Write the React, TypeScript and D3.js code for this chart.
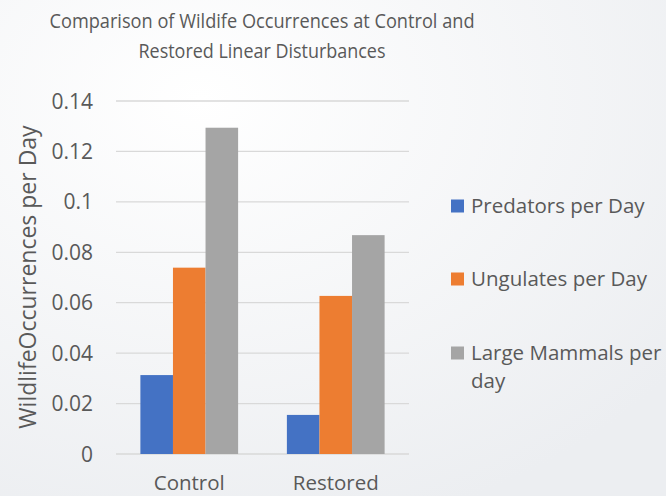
import React from "react";
import * as d3 from "d3";

const categories = ["Control", "Restored"];
const seriesNames = ["Predators per Day", "Ungulates per Day", "Large Mammals per day"];
const predators = [0.0313, 0.0155];
const ungulates = [0.0739, 0.0627];
const largeMammals = [0.1294, 0.0868];
const yTicks = [0, 0.02, 0.04, 0.06, 0.08, 0.1, 0.12, 0.14];
const titleLines = ["Comparison of Wildife Occurrences at Control and", "Restored Linear Disturbances"];
const colors = ["#4472C4", "#ED7D31", "#A5A5A5"];

const W = 666;
const H = 496;
const font = "'Open Sans', 'Noto Sans', sans-serif";
const textColor = "#595959";

const App = () => {
  const series = [predators, ungulates, largeMammals];

  const x = d3.scaleBand().domain(categories).range([116, 409]).paddingInner(0.333).paddingOuter(0.1665);
  const xInner = d3.scaleBand().domain(seriesNames).range([0, x.bandwidth()]);
  const y = d3.scaleLinear().domain([0, 0.14]).range([454, 101]);

  const legendY = [206, 279, 353];
  // reference title is Calibri-narrow, so squeeze the glyphs to its measured widths
  const titleWidths = [425, 247];

  return (
    <svg width={W} height={H} style={{ position: "absolute", left: 0, top: 0 }} fontFamily={font}>
      <defs>
        <radialGradient id="bg" cx="0.3" cy="0.2" r="0.9">
          <stop offset="0" stopColor="#ffffff" />
          <stop offset="1" stopColor="#eceef1" />
        </radialGradient>
      </defs>
      <rect width={W} height={H} fill="url(#bg)" />

      {/* title */}
      {titleLines.map((l, i) => (
        <text
          key={l}
          x={262}
          y={28 + i * 30}
          textAnchor="middle"
          fontSize={20.5}
          fill={textColor}
          textLength={titleWidths[i]}
          lengthAdjust="spacingAndGlyphs"
        >
          {l}
        </text>
      ))}

      {/* gridlines */}
      {yTicks.map((t) => (
        <line key={t} x1={116} x2={409} y1={y(t)} y2={y(t)} stroke="#d9d9d9" strokeWidth={1.3} />
      ))}

      {/* y tick labels */}
      {yTicks.map((t) => (
        <text key={t} x={93} y={y(t)} dy="0.36em" textAnchor="end" fontSize={21} fill={textColor}>
          {String(t)}
        </text>
      ))}

      {/* y axis title */}
      <text
        transform={`translate(36,277) rotate(-90)`}
        textAnchor="middle"
        fontSize={23}
        fill={textColor}
      >
        WildlifeOccurrences per Day
      </text>

      {/* bars */}
      {categories.map((c, ci) => (
        <g key={c} transform={`translate(${x(c)},0)`}>
          {series.map((s, si) => (
            <rect
              key={si}
              x={xInner(seriesNames[si])}
              width={xInner.bandwidth()}
              y={y(s[ci])}
              height={y(0) - y(s[ci])}
              fill={colors[si]}
            />
          ))}
        </g>
      ))}

      {/* x labels */}
      {categories.map((c) => (
        <text key={c} x={(x(c) || 0) + x.bandwidth() / 2} y={490} textAnchor="middle" fontSize={20.5} fill={textColor}>
          {c}
        </text>
      ))}

      {/* legend */}
      {seriesNames.map((n, i) => (
        <g key={n}>
          <rect x={451} y={legendY[i] - 6.5} width={13} height={13} fill={colors[i]} />
          {i < 2 ? (
            <text x={471} y={legendY[i] + 7} fontSize={20.5} fill={textColor}>
              {n}
            </text>
          ) : (
            <text x={471} y={legendY[i] + 7} fontSize={20.5} fill={textColor}>
              <tspan x={471}>Large Mammals per</tspan>
              <tspan x={471} dy={28}>day</tspan>
            </text>
          )}
        </g>
      ))}
    </svg>
  );
};

export default App;
